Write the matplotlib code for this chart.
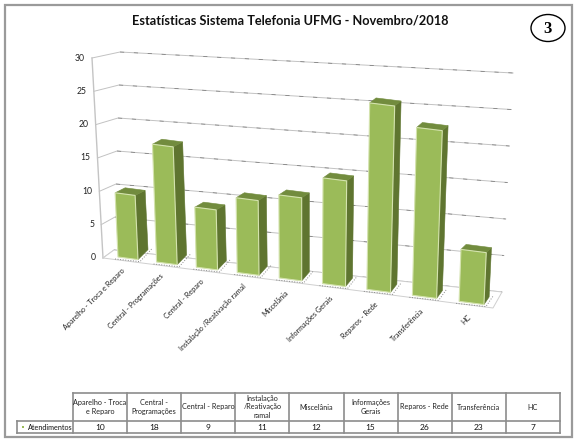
import numpy as np
import matplotlib
matplotlib.use('Agg')
import matplotlib.pyplot as plt
from matplotlib.patches import Polygon, Ellipse, Rectangle

categorias = ['Aparelho - Troca e Reparo', 'Central - Programações', 'Central - Reparo',
              'Instalação /Reativação ramal', 'Miscelânia', 'Informações Gerais',
              'Reparos - Rede', 'Transferência', 'HC']
celulas = ['Aparelho - Troca\ne Reparo', 'Central -\nProgramações', 'Central - Reparo',
           'Instalação\n/Reativação\nramal', 'Miscelânia', 'Informações\nGerais',
           'Reparos - Rede', 'Transferência', 'HC']
atendimentos = [10, 18, 9, 11, 12, 15, 26, 23, 7]
ticks = [0, 5, 10, 15, 20, 25, 30]

plt.rcParams['font.family'] = ['Lato', 'DejaVu Sans']
W, H = 580, 443
fig = plt.figure(figsize=(W / 100, H / 100), dpi=100)
ax = fig.add_axes([0, 0, 1, 1])
ax.set_xlim(0, W)
ax.set_ylim(H, 0)
ax.axis('off')

verde = '#9bbb59'
escuro = '#5f7530'
topo = '#728c3e'
cinza = '#8c8c8c'


# fake 3d: floor position of a category, plus height per unit of value
def base(i):
    x = 118 + 38 * i + 0.58 * i ** 2
    return x, 257 + 0.13 * (x - 118)


def largura(i):
    return 20 + 0.6 * i


def escala(i):
    return 6.42 + 0.125 * i


def incl(i):
    return -0.045 + 0.01 * i


# outer frame
ax.add_patch(Rectangle((5, 5), 567, 432, fc='white', ec='#9a9a9a', lw=1.6))

ax.text(290, 20, 'Estatísticas Sistema Telefonia UFMG - Novembro/2018', ha='center', va='center',
        fontsize=9.2, fontweight='bold', color='#111111')
ax.add_patch(Ellipse((548, 28), 34, 27, fc='white', ec='black', lw=1))
ax.text(548, 28.5, '3', ha='center', va='center', fontsize=12, fontweight='bold',
        family='Liberation Serif')

# walls and gridlines
for v in ticks:
    y0 = 258 - v * 200 / 30
    x0 = 103 - v * 11 / 30
    xb = 114 + v * 6 / 30
    yb = 250 - v * 198 / 30
    xr = 502 + v * 11 / 30
    yr = 292 - v * 219 / 30
    ax.plot([x0, xb, xr], [y0, yb, yr], color='#c2c2c2', lw=0.7, zorder=1)
    ax.plot([xb, xr], [yb, yr], color='#777777', lw=0.5, ls=(0, (6, 14)), zorder=1)
    ax.text(x0 - 7, y0, str(v), ha='right', va='center', fontsize=6.2, color='#222222')
ax.plot([103, 92], [258, 58], color='#c4c4c4', lw=1, zorder=1)

# floor
ax.add_patch(Polygon([(103, 258), (114, 250), (502, 292), (493, 308)], fc='white',
                     ec='#cfcfcf', lw=0.7, zorder=1))

# bars
for i, v in enumerate(atendimentos):
    xb, yb = base(i)
    w = largura(i)
    h = v * escala(i)
    dx = 10 - 0.6 * i
    sl = 0.13
    lean = incl(i) * h
    bl = (xb, yb)
    br = (xb + w, yb + w * sl)
    tl = (xb + lean, yb - h)
    tr = (xb + w + lean + 0.01 * h * i / 8, yb + w * sl - h)
    trb = (tr[0] + dx, tr[1] - 5)
    tlb = (tl[0] + dx, tl[1] - 5)
    brb = (br[0] + dx, br[1] - 10 + 0.3 * i)
    # dotted shadow on floor
    ax.plot([bl[0] - 3, br[0] + 2, brb[0] + 4], [bl[1] + 2, br[1] + 2, brb[1] - 1], color='#888888',
            lw=0.7, ls=':', zorder=2)
    ax.add_patch(Polygon([br, tr, trb, brb], fc=escuro, ec=escuro, lw=0.4, zorder=3))
    ax.add_patch(Polygon([tl, tr, trb, tlb], fc=topo, ec=topo, lw=0.4, zorder=3))
    ax.add_patch(Polygon([bl, br, tr, tl], fc=verde, ec='#d4e3ae', lw=0.8, zorder=4))

    # rotated category label, ending just under the bar
    ax.text(xb + 5.5 + 0.7 * i, yb + 12.5 + 0.2 * i, categorias[i], rotation=45, ha='right', va='center',
            rotation_mode='anchor', fontsize=5.2, color='#222222')

# table
colunas = [73 + 54.1 * k for k in range(10)]
for x in colunas:
    ax.plot([x, x], [393, 433], color=cinza, lw=1.2)
ax.plot([17, 17], [421, 433], color=cinza, lw=1.2)
ax.plot([73, 560], [393, 393], color=cinza, lw=1.2)
ax.plot([17, 560], [421, 421], color=cinza, lw=1.2)
ax.plot([17, 560], [433, 433], color=cinza, lw=1.2)
for k, v in enumerate(atendimentos):
    xc = (colunas[k] + colunas[k + 1]) / 2
    ax.text(xc, 407, celulas[k], ha='center', va='center', fontsize=5.2, linespacing=1.25, color='#222222')
    ax.text(xc, 427.5, str(v), ha='center', va='center', fontsize=6, color='#111111')
ax.add_patch(Rectangle((21.5, 426), 2, 2, fc=verde, ec='none'))
ax.text(50, 427.5, 'Atendimentos', ha='center', va='center', fontsize=5.2, color='#111111')

fig.savefig('out.png', dpi=100)
